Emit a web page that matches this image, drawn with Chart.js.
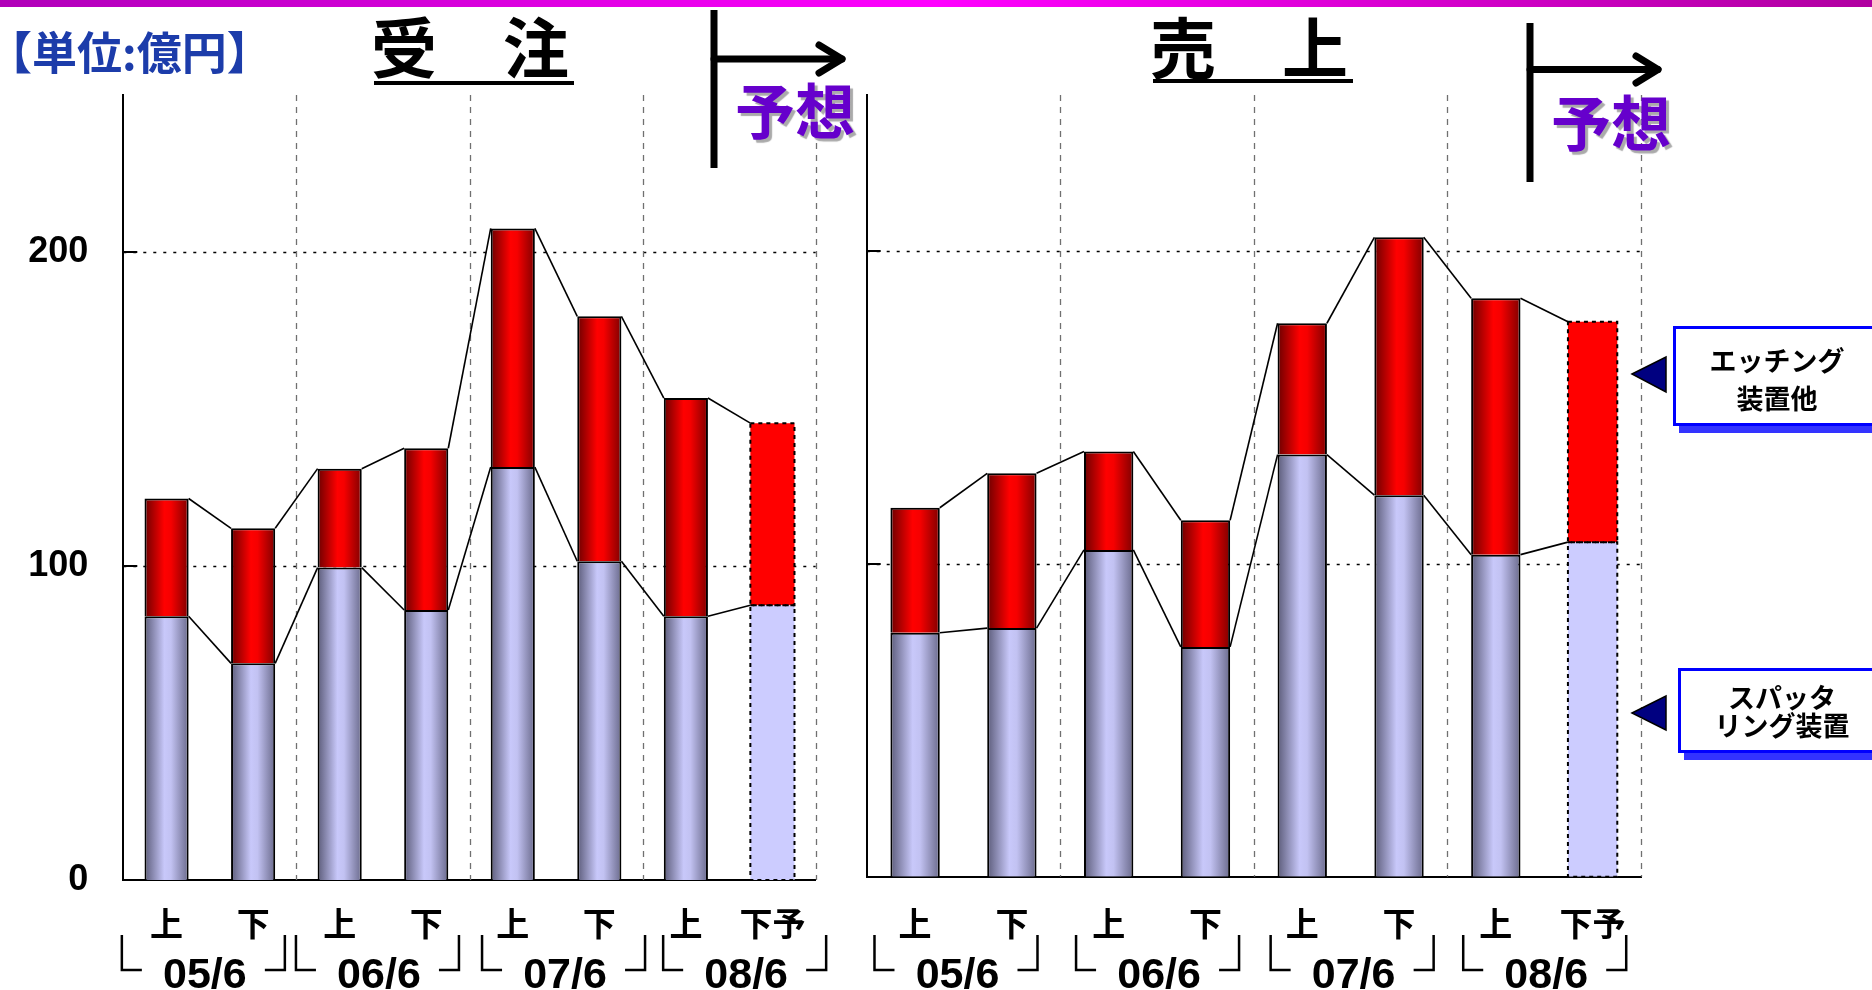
<!DOCTYPE html>
<html lang="ja">
<head>
  <meta charset="UTF-8" />
  <title>受注・売上</title>
  <script src="https://cdn.jsdelivr.net/npm/chart.js"></script>
  <style>
    html, body { margin: 0; padding: 0; background: #fff; }
    body { width: 1872px; height: 990px; position: relative; overflow: hidden; font-family: "Noto Sans CJK JP", sans-serif; }
    .abs { position: absolute; white-space: nowrap; }
    #topbar { left: 0; top: 0; width: 1872px; height: 7px; background: linear-gradient(to right, #b000b8, #ff00ff 50%, #b000a0); }
    #unit { left: -13px; top: 28px; font-size: 45px; line-height: 45px; font-weight: bold; color: #1c3caa; }
    .title { top: 11px; font-size: 66px; line-height: 66px; font-weight: bold; color: #000; }
    .uline { height: 4px; background: #000; }
    .yoso { font-size: 60px; line-height: 60px; font-weight: bold; color: #6600cc; text-shadow: 3px 3px 1px #aaa; }
    .box { border: 3px solid #0000ff; background: #fff; box-shadow: 6px 7px 0 #3333ff; font-weight: bold; text-align: center; color: #000; width: 202px; }
    canvas { position: absolute; top: 0; }
  </style>
</head>
<body>
  <div id="topbar" class="abs"></div>
  <canvas id="orders" width="860" height="990" style="left:0"></canvas>
  <canvas id="sales" width="1012" height="990" style="left:860px"></canvas>

  <div id="unit" class="abs">【単位:億円】</div>
  <div class="abs title" style="left:371px">受　注</div>
  <div class="abs uline" style="left:374px; top:81px; width:200px"></div>
  <div class="abs title" style="left:1150px">売　上</div>
  <div class="abs uline" style="left:1153px; top:79px; width:200px"></div>

  <svg class="abs" style="left:0; top:0" width="1872" height="990">
    <g stroke="#000" stroke-width="7" fill="none" stroke-linecap="round" stroke-linejoin="round">
      <line x1="714" y1="10" x2="714" y2="168" stroke-linecap="butt" />
      <line x1="714" y1="59" x2="842" y2="59" />
      <polyline points="819,45 842,59 819,73" />
      <line x1="1530" y1="23" x2="1530" y2="182" stroke-linecap="butt" />
      <line x1="1530" y1="69.5" x2="1658" y2="69.5" />
      <polyline points="1636,56 1658,69.5 1636,83" />
    </g>
    <polygon points="1632,374 1666,357 1666,392" fill="#000080" stroke="#000" stroke-width="1.5" />
    <polygon points="1632,713 1666,696 1666,730" fill="#000080" stroke="#000" stroke-width="1.5" />
  </svg>

  <div class="abs yoso" style="left:735px; top:78px">予想</div>
  <div class="abs yoso" style="left:1551px; top:90px">予想</div>

  <div class="abs box" style="left:1673px; top:326px; height:82px; padding-top:12px; font-size:27px; line-height:38px">エッチング<br>装置他</div>
  <div class="abs box" style="left:1678px; top:668px; height:67px; padding-top:12px; font-size:27px; line-height:28px">スパッタ<br>リング装置</div>

  <script>
    // half-year periods, grouped by fiscal year
    const periodLabels = ['上', '下', '上', '下', '上', '下', '上', '下予'];
    const fiscalGroups = ['05/6', '06/6', '07/6', '08/6'];
    const forecastFlags = [false, false, false, false, false, false, false, true];
    const yTicks = [0, 100, 200];
    const yMax = 250;

    // 受注 (orders)
    const orderSputter = [84, 69, 99.5, 86, 131.5, 101.5, 84, 87.5];
    const orderEtching = [37.5, 43, 31.5, 51.5, 76, 78, 69.5, 58];
    // 売上 (sales)
    const salesSputter = [78, 79.5, 104.5, 73.5, 135, 122, 103, 107];
    const salesEtching = [40, 49.5, 31.5, 40.5, 42, 82.5, 82, 70.5];

    const barPct = 0.51;
    const blueStops = [[0, '#5c5c7a'], [0.45, '#c8c8fa'], [0.6, '#c2c2f2'], [1, '#6a6a8c']];
    const redStops = [[0, '#6c0000'], [0.45, '#ff0000'], [0.6, '#f60000'], [1, '#800000']];

    function barFill(stops, flat) {
      return (c) => {
        const i = c.dataIndex;
        if (i === undefined || forecastFlags[i]) return flat;
        const xs = c.chart.scales.x;
        if (!xs || !xs.width) return flat;
        const cx = xs.getPixelForValue(i);
        const half = xs.width / periodLabels.length * barPct / 2;
        const g = c.chart.ctx.createLinearGradient(cx - half, 0, cx + half, 0);
        stops.forEach(s => g.addColorStop(s[0], s[1]));
        return g;
      };
    }

    const decor = {
      id: 'decor',
      beforeDatasetsDraw(chart) {
        const { ctx, chartArea: a, scales: { x, y } } = chart;
        ctx.save();
        ctx.strokeStyle = '#000';
        ctx.lineWidth = 1.5;
        ctx.setLineDash([3, 7]);
        yTicks.filter(v => v > 0).forEach(v => {
          const py = Math.round(y.getPixelForValue(v)) + 0.5;
          ctx.beginPath(); ctx.moveTo(a.left, py); ctx.lineTo(a.right, py); ctx.stroke();
        });
        ctx.strokeStyle = '#707070';
        ctx.lineWidth = 1.3;
        ctx.setLineDash([6, 6]);
        fiscalGroups.forEach((g, k) => {
          const px = Math.round(x.getPixelForValue(2 * k + 1.5)) + 0.5;
          ctx.beginPath(); ctx.moveTo(px, a.top); ctx.lineTo(px, a.bottom); ctx.stroke();
        });
        ctx.setLineDash([]);
        ctx.strokeStyle = '#000';
        ctx.lineWidth = 2;
        yTicks.forEach(v => {
          const py = Math.round(y.getPixelForValue(v));
          ctx.beginPath(); ctx.moveTo(a.left, py); ctx.lineTo(a.left + 14, py); ctx.stroke();
        });
        ctx.restore();
      },
      afterDatasetsDraw(chart) {
        const ctx = chart.ctx;
        ctx.save();
        chart.data.datasets.forEach((ds, d) => {
          const bars = chart.getDatasetMeta(d).data;
          ctx.strokeStyle = '#000';
          ctx.lineWidth = 1.6;
          ctx.setLineDash([]);
          for (let i = 0; i < bars.length - 1; i++) {
            const p = bars[i], q = bars[i + 1];
            ctx.beginPath();
            ctx.moveTo(p.x + p.width / 2, p.y);
            ctx.lineTo(q.x - q.width / 2, q.y);
            ctx.stroke();
          }
          ctx.lineWidth = 2;
          ctx.setLineDash([4, 4]);
          bars.forEach((b, i) => {
            if (forecastFlags[i]) ctx.strokeRect(b.x - b.width / 2, b.y, b.width, b.base - b.y);
          });
        });
        ctx.restore();
      },
      afterDraw(chart, args, opts) {
        const { ctx, scales: { x } } = chart;
        const shift = opts.groupShift || [];
        ctx.save();
        ctx.fillStyle = '#000';
        ctx.textAlign = 'center';
        ctx.textBaseline = 'middle';
        ctx.font = 'bold 33px "Noto Sans CJK JP"';
        periodLabels.forEach((t, i) => ctx.fillText(t, x.getPixelForValue(i), 923));
        ctx.textBaseline = 'alphabetic';
        ctx.font = 'bold 43px "Liberation Sans"';
        ctx.strokeStyle = '#000';
        ctx.lineWidth = 2.5;
        fiscalGroups.forEach((g, k) => {
          const c = (x.getPixelForValue(2 * k - 0.5) + x.getPixelForValue(2 * k + 1.5)) / 2 + (shift[k] || 0);
          const L = c - 83, R = c + 80;
          ctx.fillText(g, c, 988);
          ctx.beginPath();
          ctx.moveTo(L, 935); ctx.lineTo(L, 970); ctx.lineTo(L + 20, 970);
          ctx.moveTo(R - 20, 970); ctx.lineTo(R, 970); ctx.lineTo(R, 935);
          ctx.stroke();
        });
        ctx.restore();
      }
    };

    function makeChart(id, sputter, etching, yWidth, showYLabels, pad, groupShift) {
      return new Chart(document.getElementById(id), {
        type: 'bar',
        data: {
          labels: periodLabels,
          datasets: [
            { label: 'スパッタリング装置', data: sputter, backgroundColor: barFill(blueStops, '#ccccff'),
              borderColor: '#000', borderWidth: periodLabels.map((l, i) => forecastFlags[i] ? 0 : 2) },
            { label: 'エッチング装置他', data: etching, backgroundColor: barFill(redStops, '#ff0000'),
              borderColor: '#000', borderWidth: periodLabels.map((l, i) => forecastFlags[i] ? 0 : 2) }
          ]
        },
        options: {
          responsive: false,
          animation: false,
          layout: { padding: pad },
          plugins: { legend: { display: false }, tooltip: { enabled: false }, decor: { groupShift } },
          datasets: { bar: { categoryPercentage: 1, barPercentage: barPct } },
          scales: {
            x: {
              stacked: true,
              grid: { display: false },
              ticks: { display: false },
              border: { color: '#000', width: 2 },
              afterFit: s => { s.height = 0; }
            },
            y: {
              stacked: true,
              min: 0,
              max: yMax,
              grid: { display: false },
              border: { color: '#000', width: 2 },
              afterBuildTicks: s => { s.ticks = yTicks.map(v => ({ value: v })); },
              afterFit: s => { s.width = yWidth; },
              ticks: { display: showYLabels, padding: 27, color: '#000',
                       font: { family: 'Liberation Sans', size: 36, weight: 'bold' } }
            }
          }
        },
        plugins: [decor]
      });
    }

    makeChart('orders', orderSputter, orderEtching, 123.3, true,
              { top: 95, bottom: 110, left: 0, right: 44.3 }, [-5, -4, 9, 17]);
    makeChart('sales', salesSputter, salesEtching, 6.7, false,
              { top: 95, bottom: 113.3, left: 0, right: 231 }, [-6, 2, 3, 2]);
  </script>
</body>
</html>
